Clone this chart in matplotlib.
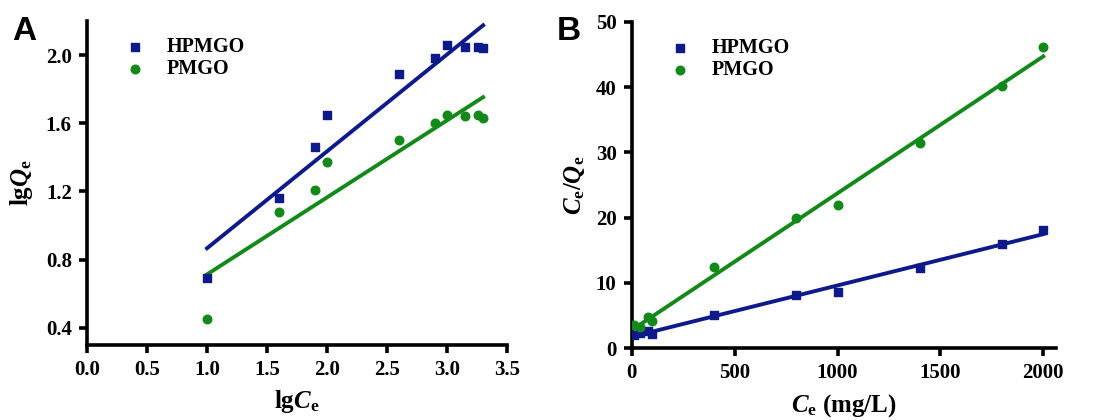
import numpy as np
import matplotlib
matplotlib.use("Agg")
import matplotlib.pyplot as plt
from matplotlib.ticker import FormatStrFormatter

plt.rcParams['font.family'] = ['Liberation Serif', 'DejaVu Serif']
plt.rcParams['font.weight'] = 'bold'
plt.rcParams['axes.labelweight'] = 'bold'
plt.rcParams['mathtext.fontset'] = 'custom'
plt.rcParams['mathtext.rm'] = 'Liberation Serif:bold'
plt.rcParams['mathtext.it'] = 'Liberation Serif:bold:italic'
plt.rcParams['mathtext.bf'] = 'Liberation Serif:bold'

# equilibrium concentrations (mg/L)
ce = [10, 40, 80, 100, 400, 800, 1000, 1400, 1800, 2000]

# Freundlich: lgQe vs lgCe
lgqe_hp = [0.69, 1.16, 1.46, 1.65, 1.89, 1.98, 2.06, 2.05, 2.05, 2.04]
lgqe_p = [0.45, 1.08, 1.21, 1.37, 1.50, 1.60, 1.65, 1.64, 1.65, 1.63]

# Langmuir: Ce/Qe vs Ce
ceqe_hp = [2.0, 2.3, 2.7, 2.2, 5.1, 8.2, 8.6, 12.3, 16.0, 18.1]
ceqe_p = [3.5, 3.3, 4.8, 4.2, 12.4, 20.0, 21.9, 31.4, 40.1, 46.1]

blue = '#0f1a8a'
green = '#13891a'

fig = plt.figure(figsize=(10.95, 4.2), dpi=100)
axA = fig.add_axes([0.0795, 0.179, 0.3835, 0.771])
axB = fig.add_axes([0.577, 0.171, 0.387, 0.777])


def style(ax):
    for s in ['top', 'right']:
        ax.spines[s].set_visible(False)
    for s in ['left', 'bottom']:
        ax.spines[s].set_linewidth(2.6)
    ax.tick_params(width=2.6, length=6, direction='out', labelsize=15, pad=5)


def fitline(ax, x, y, color):
    k, b = np.polyfit(x, y, 1)
    xx = np.array([min(x), max(x)])
    ax.plot(xx, k * xx + b, color=color, lw=2.8, zorder=2)


# panel A
lgce = np.log10(ce)
axA.scatter(lgce, lgqe_hp, marker='s', s=34, color=blue, label='HPMGO', zorder=3)
axA.scatter(lgce, lgqe_p, marker='o', s=38, color=green, label='PMGO', zorder=3)
fitline(axA, lgce, lgqe_hp, blue)
fitline(axA, lgce, lgqe_p, green)
axA.set_xlim(0, 3.5)
axA.set_ylim(0.3, 2.2)
axA.set_xticks(np.arange(0, 3.51, 0.5))
axA.set_yticks(np.arange(0.4, 2.01, 0.4))
axA.xaxis.set_major_formatter(FormatStrFormatter('%.1f'))
axA.yaxis.set_major_formatter(FormatStrFormatter('%.1f'))
axA.set_xlabel(r'lg$\mathit{C}_{\mathrm{e}}$', fontsize=18, labelpad=6)
axA.set_ylabel(r'lg$\mathit{Q}_{\mathrm{e}}$', fontsize=18, labelpad=8)
style(axA)

# panel B
axB.scatter(ce, ceqe_hp, marker='s', s=34, color=blue, label='HPMGO', zorder=3)
axB.scatter(ce, ceqe_p, marker='o', s=38, color=green, label='PMGO', zorder=3)
fitline(axB, ce, ceqe_hp, blue)
fitline(axB, ce, ceqe_p, green)
axB.set_xlim(0, 2060)
axB.set_ylim(0, 50)
axB.set_xticks([0, 500, 1000, 1500, 2000])
axB.set_yticks([0, 10, 20, 30, 40, 50])
axB.set_xlabel(r'$\mathit{C}_{\mathrm{e}}$ (mg/L)', fontsize=18, labelpad=6)
axB.set_ylabel(r'$\mathit{C}_{\mathrm{e}}/\mathit{Q}_{\mathrm{e}}$', fontsize=18, labelpad=6)
style(axB)

for ax in (axA, axB):
    ax.legend(loc='upper left', bbox_to_anchor=(0.07, 0.975), frameon=False,
              prop={'size': 14.5, 'weight': 'bold'}, handletextpad=1.1,
              labelspacing=0.1, borderaxespad=0, handlelength=1.0)

fig.text(0.011, 0.905, 'A', fontsize=24, fontweight='bold', family='Liberation Sans')
fig.text(0.508, 0.905, 'B', fontsize=24, fontweight='bold', family='Liberation Sans')

fig.savefig('out.png', dpi=100)
